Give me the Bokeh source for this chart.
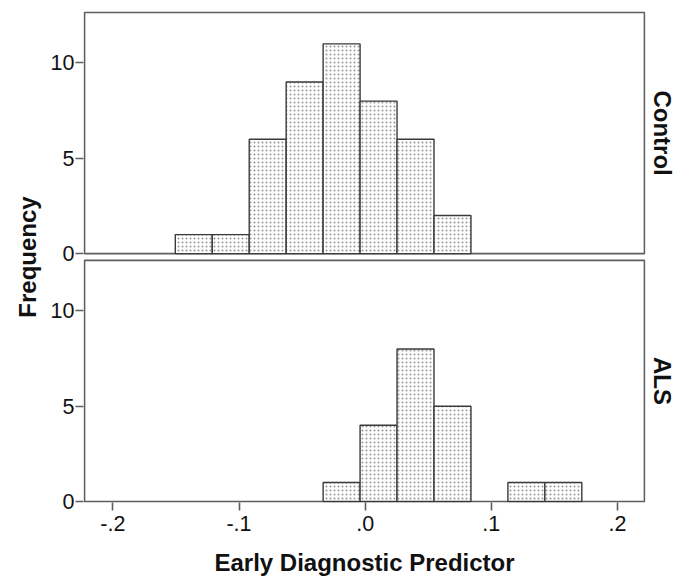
import math
from bokeh.plotting import figure
from bokeh.models import Range1d, FixedTicker, ColumnDataSource, LinearAxis
from bokeh.embed import file_html
from bokeh.resources import INLINE

# ---- data ----
bin_left = [-0.1505, -0.1212, -0.0919, -0.0626, -0.0333, -0.0040, 0.0253, 0.0546, 0.0839, 0.1132, 0.1425]
bin_right = [-0.1212, -0.0919, -0.0626, -0.0333, -0.0040, 0.0253, 0.0546, 0.0839, 0.1132, 0.1425, 0.1718]
control_counts = [1, 1, 6, 9, 11, 8, 6, 2, 0, 0, 0]
als_counts = [0, 0, 0, 0, 1, 4, 8, 5, 0, 1, 1]
x_ticks = [-0.2, -0.1, 0.0, 0.1, 0.2]
x_tick_labels = ["-.2", "-.1", ".0", ".1", ".2"]
y_ticks = [0, 5, 10]
y_tick_labels = ["0", "5", "10"]
panel_names = ["Control", "ALS"]

# ---- layout constants ----
W, H = 683, 578
BORDER_L, BORDER_R, BORDER_T, BORDER_B = 83, 38, 11, 74
PANEL_TOP = 12.65          # y max of each panel
GAP = 0.35                 # gap between panels (in count units)
OFFSET = PANEL_TOP + GAP   # baseline of the upper panel
X_LO, X_HI = -0.2225, 0.2215
XPAD, YPAD = 0.0008, 0.05

FONT = "Liberation Sans"
FRAME_COLOR = "#5e5e5e"
BAR_LINE = "#3a3a3a"
TEXT = "#111111"

p = figure(width=W, height=H, output_backend="svg", toolbar_location=None,
           x_range=Range1d(X_LO - XPAD, X_HI + XPAD),
           y_range=Range1d(-YPAD, OFFSET + PANEL_TOP + YPAD),
           min_border_left=BORDER_L, min_border_right=BORDER_R,
           min_border_top=BORDER_T, min_border_bottom=BORDER_B)
p.outline_line_color = None
p.grid.visible = False
p.background_fill_color = "white"
p.border_fill_color = "white"

# panel boxes
p.quad(left=[X_LO, X_LO], right=[X_HI, X_HI], bottom=[0, OFFSET], top=[PANEL_TOP, OFFSET + PANEL_TOP],
       fill_color=None, line_color=FRAME_COLOR, line_width=1.7)

def bars(counts, base):
    idx = [i for i, c in enumerate(counts) if c > 0]
    src = ColumnDataSource(dict(
        left=[bin_left[i] for i in idx],
        right=[bin_right[i] for i in idx],
        bottom=[base for _ in idx],
        top=[base + counts[i] for i in idx],
    ))
    p.quad(left="left", right="right", bottom="bottom", top="top", source=src,
           fill_color="white", line_color=BAR_LINE, line_width=1.4,
           hatch_pattern="dot", hatch_color="#959595", hatch_scale=4, hatch_weight=1)

bars(control_counts, OFFSET)
bars(als_counts, 0)

# x axis
xa = p.xaxis[0]
xa.ticker = FixedTicker(ticks=x_ticks)
xa.major_label_overrides = {t: l for t, l in zip(x_ticks, x_tick_labels)}
xa.axis_label = "Early Diagnostic Predictor"

# y axis: ticks for both panels
ya = p.yaxis[0]
all_y = [float(t) for t in y_ticks] + [OFFSET + t for t in y_ticks]
ya.ticker = FixedTicker(ticks=all_y)
ya.major_label_overrides = {**{float(t): l for t, l in zip(y_ticks, y_tick_labels)},
                            **{OFFSET + t: l for t, l in zip(y_ticks, y_tick_labels)}}
ya.axis_label = "Frequency"

for ax in (xa, ya):
    ax.axis_line_color = None
    ax.major_tick_line_color = FRAME_COLOR
    ax.major_tick_line_width = 1.6
    ax.major_tick_in = 0
    ax.major_tick_out = 8
    ax.minor_tick_line_color = None
    ax.major_label_text_font = FONT
    ax.major_label_text_font_size = "21.5px"
    ax.major_label_text_color = TEXT
    ax.axis_label_text_font = FONT
    ax.axis_label_text_font_size = "24px"
    ax.axis_label_text_font_style = "bold"
    ax.axis_label_text_color = TEXT

xa.major_label_standoff = 5
xa.axis_label_standoff = 15
ya.major_label_standoff = 1
ya.axis_label_standoff = 7

# panel names on the right, as labels of a right-hand axis at each panel's centre
panel_centres = [OFFSET + PANEL_TOP / 2, PANEL_TOP / 2]
ra = LinearAxis(ticker=FixedTicker(ticks=panel_centres),
                major_label_overrides={c: n for c, n in zip(panel_centres, panel_names)},
                major_label_orientation="vertical",
                axis_line_color=None, major_tick_line_color=None, minor_tick_line_color=None,
                major_tick_in=0, major_tick_out=0, major_label_standoff=3,
                major_label_text_font=FONT, major_label_text_font_size="24px",
                major_label_text_font_style="bold", major_label_text_color=TEXT)
p.add_layout(ra, "right")

open("out.html", "w").write(file_html(p, INLINE))
